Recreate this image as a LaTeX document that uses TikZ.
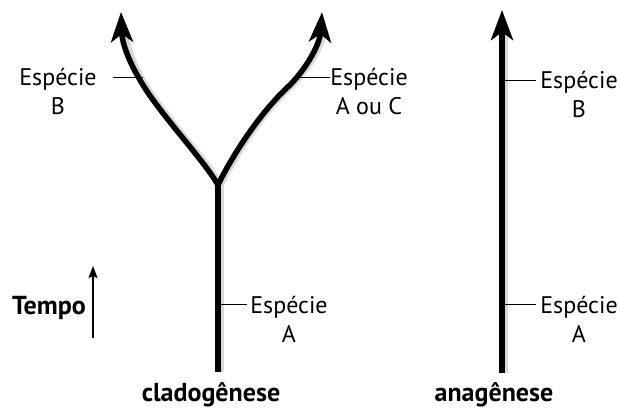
\documentclass[tikz,border=0pt]{standalone}
\usepackage{fontspec}
\setmainfont{PT Sans}
\usetikzlibrary{arrows.meta}
\begin{document}
\begin{tikzpicture}[x=1pt,y=-1pt,
  lineage/.style={line width=5.5pt, -{Stealth[length=30pt,width=22pt,inset=8pt]}},
  stipple/.style={line width=4pt, gray!30},
  leader/.style={line width=0.7pt},
  lab/.style={font=\fontsize{24}{29}\selectfont, align=center, inner sep=0pt},
  ttl/.style={font=\fontsize{26}{30}\selectfont\bfseries, inner sep=0pt}]
\useasboundingbox (0,0) rectangle (621,410);
% key points
\coordinate (base) at (218,372);
\coordinate (fork) at (218,185);
\coordinate (tipL) at (121,12);
\coordinate (tipR) at (322,12);
\coordinate (abase) at (502,373);
\coordinate (atip) at (502,10);
% stipple shading
\draw[stipple, transform canvas={xshift=4pt}] (base) -- (fork);
\draw[stipple, transform canvas={xshift=4pt}] (fork) .. controls (204,160) and (158,112) .. (140,80) .. controls (128,60) and (123,42) .. (123,30);
\draw[stipple, transform canvas={xshift=4pt}] (fork) .. controls (230,160) and (258,114) .. (290,85) .. controls (310,64) and (320,42) .. (322,30);
\draw[stipple, transform canvas={xshift=4pt}] (abase) -- (502,30);
% cladogenesis
\draw[line width=5.5pt] (base) -- (fork);
\draw[lineage] (fork) .. controls (204,160) and (158,112) .. (140,80) .. controls (128,60) and (122,42) .. (tipL);
\draw[lineage] (fork) .. controls (230,160) and (258,114) .. (290,85) .. controls (310,64) and (320,42) .. (tipR);
% anagenesis
\draw[lineage] (abase) -- (atip);
% labels
\node[lab] (labB) at (58,91.5) {Espécie\\B};
\node[lab] (labAC) at (369,91.5) {Espécie\\A ou C};
\node[lab] (labA1) at (289,319.5) {Espécie\\A};
\node[lab] (labB2) at (579,94) {Espécie\\B};
\node[lab] (labA2) at (579,319.5) {Espécie\\A};
\coordinate (cB) at (143,77);
\coordinate (cAC) at (297,77);
\coordinate (cA1) at (218,304);
\coordinate (cB2) at (502,80);
\coordinate (cA2) at (502,304);
\draw[leader] ([xshift=16pt]labB.east |- cB) -- (cB);
\draw[leader] (cAC) -- (labAC.west |- cAC);
\draw[leader] (cA1) -- ([xshift=-3pt]labA1.west |- cA1);
\draw[leader] (cB2) -- ([xshift=-4pt]labB2.west |- cB2);
\draw[leader] (cA2) -- ([xshift=-4pt]labA2.west |- cA2);
% time
\node[ttl, anchor=east] (tempo) at (86,308) {Tempo};
\coordinate (t0) at (93,338);
\coordinate (t1) at (93,266);
\draw[line width=1.4pt, -{Stealth[length=12pt,width=9pt,inset=2pt]}] (t0) -- (t1);
% titles
\node[ttl] (clado) at (211,395) {cladogênese};
\node[ttl] (ana) at (494,395) {anagênese};
\end{tikzpicture}
\end{document}
